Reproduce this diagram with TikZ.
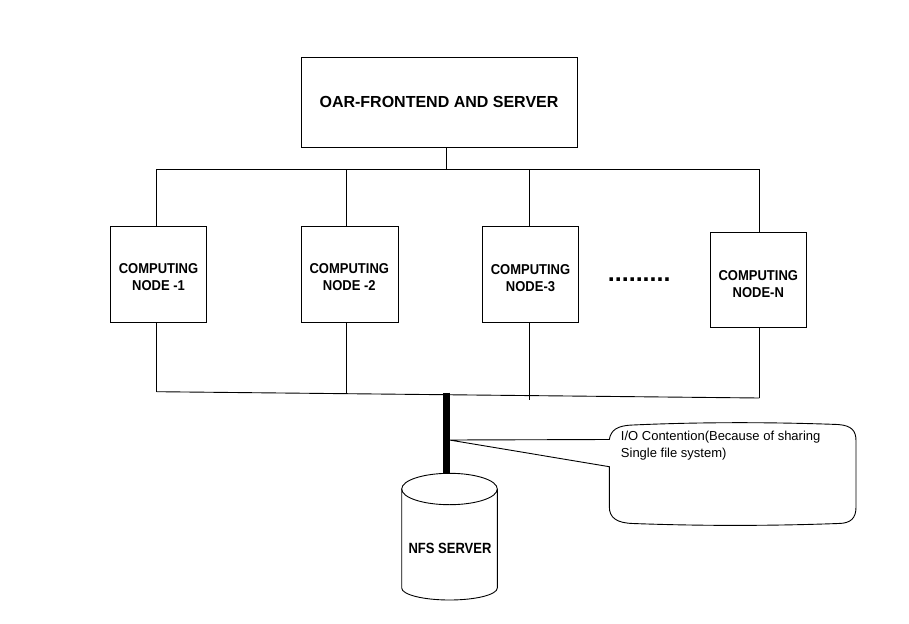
\documentclass[tikz,border=0pt]{standalone}
\usepackage{fontspec}
\usepackage{graphicx}
\setmainfont{Liberation Sans}
\newcommand\talltxt[1]{\scalebox{1}[1.1]{#1}}
\begin{document}
\begin{tikzpicture}[x=1pt,y=-1pt, line width=0.9pt,
  box/.style={draw, rectangle, inner sep=0pt},
  ntext/.style={font=\bfseries\fontsize{13}{17}\selectfont, align=center, inner sep=0pt},
]
\useasboundingbox (0,0) rectangle (909,623);
% top box
\node[box, minimum width=275.6pt, minimum height=90pt] (top) at (439.5,102.3) {};
\node[font=\bfseries\fontsize{16}{19}\selectfont, inner sep=0pt] (title) at (439,102.3) {OAR-FRONTEND AND SERVER};
% computing nodes
\node[box, minimum width=96pt, minimum height=96pt] (n1) at (158.7,274.3) {};
\node[ntext] (n1t) at (158.5,277.5) {\talltxt{COMPUTING}\\\talltxt{NODE -1}};
\node[box, minimum width=97pt, minimum height=96pt] (n2) at (349.8,274.3) {};
\node[ntext] (n2t) at (349.3,277.5) {\talltxt{COMPUTING}\\\talltxt{NODE -2}};
\node[box, minimum width=96pt, minimum height=96pt] (n3) at (530.3,274.3) {};
\node[ntext] (n3t) at (530.5,278) {\talltxt{COMPUTING}\\\talltxt{NODE-3}};
\node[box, minimum width=96pt, minimum height=95pt] (nN) at (758.2,279.7) {};
\node[ntext] (nNt) at (758.3,284) {\talltxt{COMPUTING}\\\talltxt{NODE-N}};
\node[font=\bfseries\fontsize{25}{25}\selectfont, inner sep=0pt, anchor=base west] (dots) at (607.5,281.5) {.........};
% top bus
\coordinate (tbL) at (156.7,169.3);
\coordinate (tbR) at (759.3,169.3);
\coordinate (tb0) at (446.3,169.3);
\coordinate (tb2) at (346.7,169.3);
\coordinate (tb3) at (529.3,169.3);
\draw (tbL) -- (tbR);
\draw (top.south -| tb0) -- (tb0);
\draw (tbL) -- (tbL |- n1.north);
\draw (tb2) -- (tb2 |- n2.north);
\draw (tb3) -- (tb3 |- n3.north);
\draw (tbR) -- (tbR |- nN.north);
% bottom bus
\coordinate (bbL) at (156.7,391.7);
\coordinate (bbR) at (759.3,398);
\coordinate (bb2) at (346.7,393.7);
\coordinate (bb3) at (529.3,400);
\draw (bbL) -- (bbR);
\draw (n1.south -| bbL) -- (bbL);
\draw (n2.south -| bb2) -- (bb2);
\draw (n3.south -| bb3) -- (bb3);
\draw (nN.south -| bbR) -- (bbR);
% NFS server cylinder
\coordinate (barT) at (446.2,392.5);
\coordinate (cylT) at (446.2,473.6);
\draw (449.5,489) ellipse [x radius=47.8pt, y radius=15.7pt];
\draw (401.7,489) -- (401.7,588) arc[start angle=180, end angle=360, x radius=47.8pt, y radius=12pt] -- (497.3,489);
\node[font=\bfseries\fontsize{13}{15}\selectfont, inner sep=0pt] (nfs) at (450,548) {\scalebox{1}[1.14]{NFS SERVER}};
\draw[line width=7pt] (barT) -- (cylT);
% callout
\coordinate (io) at (449.5,440);
\draw (io) -- (609.3,439.5) .. controls (611,430) and (617,425.5) .. (633,425)
  .. controls (700,422) and (770,422) .. (838,424.5)
  .. controls (852,425.5) and (856,431) .. (856,441) -- (856,507)
  .. controls (856,518) and (851,523.5) .. (838,523.5)
  .. controls (770,526) and (700,526) .. (633,523.5)
  .. controls (617,523) and (609.3,518) .. (609.3,506.7) -- (609.3,466.7) -- (io);
\node[font=\fontsize{13}{16.7}\selectfont, align=left, inner sep=0pt, anchor=north west] (ioText) at (620.5,431) {I/O Contention(Because of sharing\\Single file system)};
\end{tikzpicture}
\end{document}
